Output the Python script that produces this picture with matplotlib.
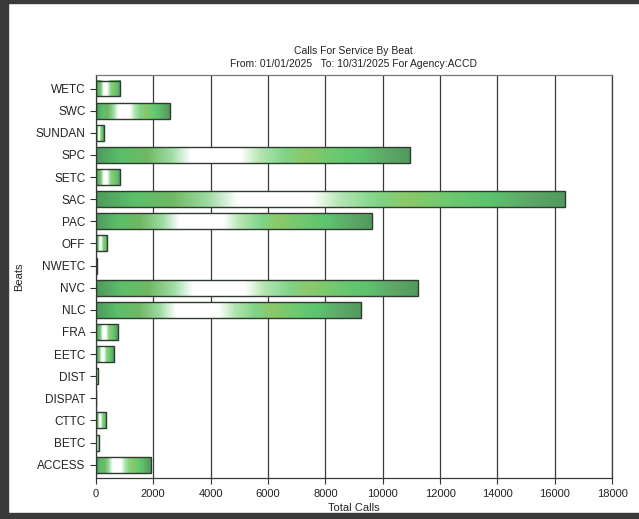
"""
calls for service by beat - horizontal bar chart
"""
import matplotlib
matplotlib.use("Agg")
import matplotlib.pyplot as plt
import numpy as np
from matplotlib.colors import LinearSegmentedColormap
from matplotlib.patches import Rectangle

beats = ["WETC", "SWC", "SUNDAN", "SPC", "SETC", "SAC", "PAC", "OFF", "NWETC",
         "NVC", "NLC", "FRA", "EETC", "DIST", "DISPAT", "CTTC", "BETC", "ACCESS"]
calls = [840, 2570, 270, 10950, 850, 16360, 9630, 390, 30,
         11230, 9240, 760, 620, 80, 20, 350, 110, 1910]
xticks = [0, 2000, 4000, 6000, 8000, 10000, 12000, 14000, 16000, 18000]

plt.rcParams['font.family'] = ['Liberation Sans', 'DejaVu Sans']

# green "metallic" fill that runs along each bar
green = LinearSegmentedColormap.from_list("bar_green", [
    (0.00, "#4f9a5c"), (0.08, "#5cbf6a"), (0.16, "#6fb863"), (0.24, "#9fdca4"),
    (0.30, "#ffffff"), (0.46, "#ffffff"), (0.52, "#b4e6b2"), (0.60, "#7fd487"),
    (0.66, "#8cc86a"), (0.76, "#6cc870"), (0.84, "#5dc36e"), (0.92, "#5fa868"),
    (1.00, "#4f9a5c")])
grad = np.linspace(0, 1, 256).reshape(1, -1)

fig = plt.figure(figsize=(6.39, 5.19), dpi=100)
ax = fig.add_axes([0.150, 0.079, 0.808, 0.776])

y = np.arange(len(beats))[::-1]
h = 0.72
bars = ax.barh(y, calls, height=h, facecolor="none", edgecolor="#2f3a30",
               linewidth=1.0, zorder=3)
for yi, val in zip(y, calls):
    ax.imshow(grad, cmap=green, aspect="auto", zorder=2,
              extent=(0, val, yi - h / 2, yi + h / 2), interpolation="bilinear")

ax.set_xlim(0, 18000)
ax.set_ylim(-0.6, len(beats) - 0.4)
ax.set_xticks(xticks)
ax.set_xticklabels([str(v) for v in xticks], fontsize=8, color="#222222")
ax.set_yticks(y)
ax.set_yticklabels(beats, fontsize=8.5, color="#222222")
ax.tick_params(axis="both", length=4, color="#333333", width=0.8)
ax.tick_params(axis="x", pad=4)
ax.grid(axis="x", color="#3a3a3a", linewidth=0.9, zorder=1)
for s in ax.spines.values():
    s.set_color("#3a3a3a")
    s.set_linewidth(0.9)
ax.spines["top"].set_color("#777777")

ax.set_xlabel("Total Calls", fontsize=8, color="#222222", labelpad=3)
ax.set_ylabel("Beats", fontsize=8, color="#222222", labelpad=8)
fig.text(0.553, 0.895, "Calls For Service By Beat", ha="center", fontsize=7.5,
         color="#222222")
fig.text(0.553, 0.870, "From: 01/01/2025   To: 10/31/2025 For Agency:ACCD",
         ha="center", fontsize=7.5, color="#222222")

# dark edges of the scanned page
fig.patches.append(Rectangle((0, 0), 0.013, 1, transform=fig.transFigure,
                             color="#3a3a3a", zorder=0))
fig.patches.append(Rectangle((0, 0.994), 1, 0.006, transform=fig.transFigure,
                             color="#3a3a3a", zorder=0))
fig.patches.append(Rectangle((0, 0), 1, 0.011, transform=fig.transFigure,
                             color="#3a3a3a", zorder=0))

fig.savefig("out.png", dpi=100)
